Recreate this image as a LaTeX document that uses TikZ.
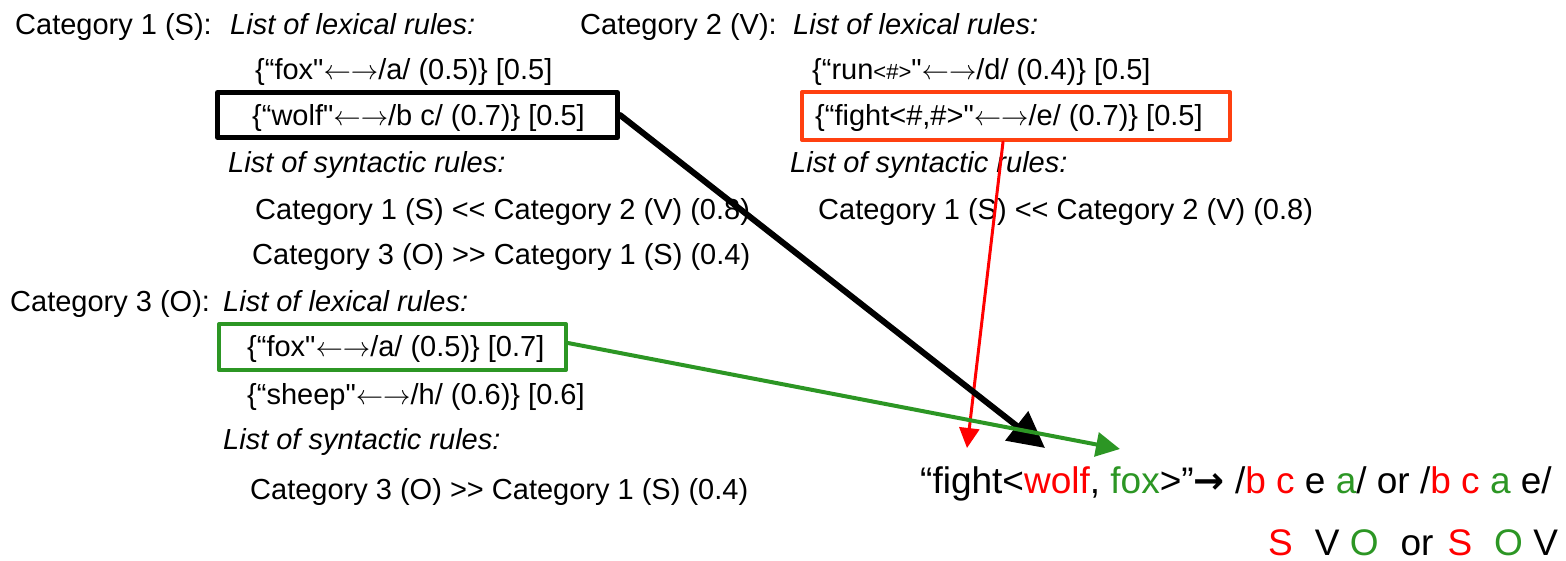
\documentclass[tikz,border=0pt]{standalone}
\usepackage{fontspec}
\setmainfont{Liberation Sans}
\newfontfamily\arrowfont{DejaVu Sans}
\usetikzlibrary{arrows.meta}

\definecolor{wordred}{RGB}{255,0,0}
\definecolor{boxred}{RGB}{255,64,16}
\definecolor{wordgreen}{RGB}{44,150,36}

\newcommand{\maps}{\textquotedbl\scalebox{1.1}{$\leftarrow\rightarrow$}}

\tikzset{
  cat/.style={anchor=base west, inner sep=0pt, font=\fontsize{29}{34}\selectfont},
  head/.style={cat, font=\fontsize{29}{34}\selectfont\itshape},
  lex/.style={cat},
  big/.style={cat, font=\fontsize{37}{44}\selectfont},
  rulebox/.style={draw=#1, line width=4.5pt, inner sep=0pt},
  link/.style 2 args={draw=#1, -{Triangle[length=#2, width=#2]}}
}

\begin{document}
\begin{tikzpicture}[x=1pt, y=-1pt, line cap=round, line join=round]
  \useasboundingbox (0,0) rectangle (1566,560);

  % Category 1 (S)
  \node[cat] (cat1) at (15,34) {Category 1 (S):};
  \node[head] (lex1) at (230,34) {List of lexical rules:};
  \node[lex] (fox1) at (255,79) {\{“fox\maps/a/ (0.5)\} [0.5]};
  \node[rulebox=black, line width=5pt, minimum width=400pt, minimum height=45pt] (wolfbox) at (417.5,115) {};
  \node[lex] (wolf) at (252,125) {\{“wolf\maps/b c/ (0.7)\} [0.5]};
  \node[head] (syn1) at (228,172) {List of syntactic rules:};
  \node[cat] (ord1a) at (255,219) {Category 1 (S) <{}< Category 2 (V) (0.8)};
  \node[cat] (ord1b) at (252,264) {Category 3 (O) >{}> Category 1 (S) (0.4)};

  % Category 2 (V)
  \node[cat] (cat2) at (580,34) {Category 2 (V):};
  \node[head] (lex2) at (793,34) {List of lexical rules:};
  \node[lex] (run) at (812,79) {\{“run{\fontsize{22}{26}\selectfont<\#>}\maps/d/ (0.4)\} [0.5]};
  \node[rulebox=boxred, line width=4pt, minimum width=428pt, minimum height=48pt] (fightbox) at (1016,116) {};
  \node[lex] (fight) at (815,125) {\{“fight<\#,\#>\maps/e/ (0.7)\} [0.5]};
  \node[head] (syn2) at (790,172) {List of syntactic rules:};
  \node[cat] (ord2) at (818,219) {Category 1 (S) <{}< Category 2 (V) (0.8)};

  % Category 3 (O)
  \node[cat] (cat3) at (10,311) {Category 3 (O):};
  \node[head] (lex3) at (223,311) {List of lexical rules:};
  \node[rulebox=wordgreen, line width=4pt, minimum width=347pt, minimum height=46pt] (foxbox) at (392.5,347) {};
  \node[lex] (fox3) at (247,356) {\{“fox\maps/a/ (0.5)\} [0.7]};
  \node[lex] (sheep) at (247,404) {\{“sheep\maps/h/ (0.6)\} [0.6]};
  \node[head] (syn3) at (223,449) {List of syntactic rules:};
  \node[cat] (ord3) at (250,499) {Category 3 (O) >{}> Category 1 (S) (0.4)};

  % the combined sentence
  \node[big] (result) at (920,493) {“fight<\textcolor{wordred}{wolf}, \textcolor{wordgreen}{fox}>”{\arrowfont\bfseries →} /\textcolor{wordred}{b c} e \textcolor{wordgreen}{a}/ or /\textcolor{wordred}{b c} \textcolor{wordgreen}{a} e/};
  \node[big] (order) at (1268,555) {\textcolor{wordred}{S}\hspace{22pt}V \textcolor{wordgreen}{O}\hspace{22pt}or\hspace{14pt}\textcolor{wordred}{S}\hspace{22pt}\textcolor{wordgreen}{O} V};

  \coordinate (fightTip) at (967,448);
  \coordinate (wolfTip) at (1045,448);
  \coordinate (foxTip) at (1120,449);

  \draw[link={wordred}{20pt}, line width=3pt] ([xshift=-13pt]fightbox.south) -- (fightTip);
  \draw[link={black}{36pt}, line width=6pt] (wolfbox.east) -- (wolfTip);
  \draw[link={wordgreen}{24pt}, line width=4pt] ([yshift=4pt]foxbox.east) -- (foxTip);
\end{tikzpicture}
\end{document}
